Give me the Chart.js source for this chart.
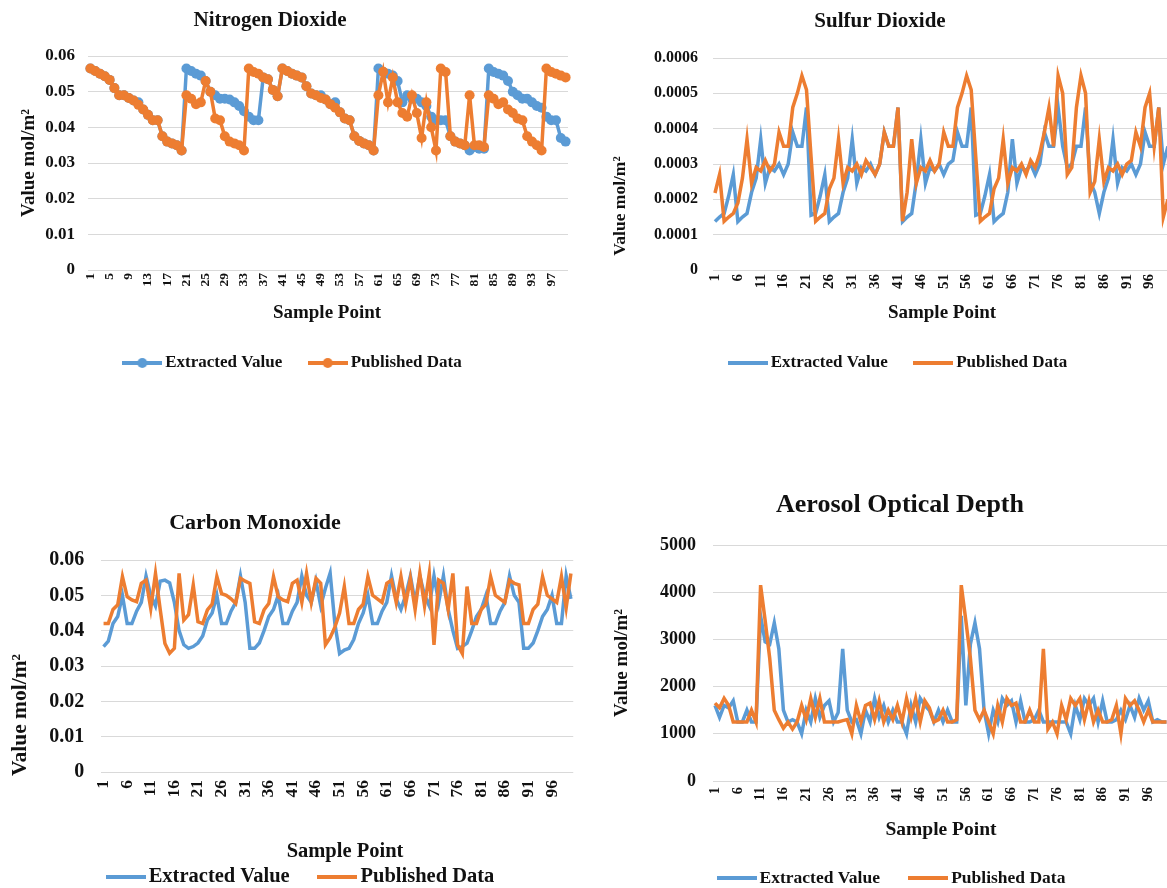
<!DOCTYPE html>
<html>
<head>
<meta charset="utf-8">
<script src="https://cdn.jsdelivr.net/npm/chart.js"></script>
<style>
  html, body { margin: 0; padding: 0; background: #fff; }
  body { position: relative; width: 1167px; height: 888px; overflow: hidden; }
  canvas { position: absolute; }
</style>
</head>
<body>
<canvas id="no2" width="600" height="395" style="left:0;top:0"></canvas>
<canvas id="so2" width="590" height="395" style="left:600px;top:0"></canvas>
<canvas id="co" width="600" height="420" style="left:0;top:480px"></canvas>
<canvas id="aod" width="590" height="420" style="left:600px;top:480px"></canvas>
<script>
// sample points 1..100 (category axis)
const samplePoints = Array.from({length: 100}, (_, i) => String(i + 1));

const no2Extracted = [
  0.0565, 0.0558, 0.055, 0.0543, 0.0533, 0.051, 0.049, 0.049, 0.0482, 0.0475,
  0.047, 0.045, 0.0435, 0.042, 0.042, 0.0375, 0.036, 0.0355, 0.035, 0.0335,
  0.0565, 0.0558, 0.055, 0.0545, 0.053, 0.050, 0.049, 0.048, 0.048, 0.0478,
  0.047, 0.046, 0.0445, 0.043, 0.042, 0.042, 0.054, 0.0535, 0.0505, 0.0487,
  0.0565, 0.0558, 0.055, 0.0545, 0.054, 0.0515, 0.0495, 0.049, 0.049, 0.0478,
  0.0465, 0.047, 0.0442, 0.0425, 0.042, 0.0375, 0.0362, 0.0355, 0.035, 0.0335,
  0.0565, 0.0555, 0.055, 0.0545, 0.053, 0.047, 0.049, 0.048, 0.048, 0.047,
  0.046, 0.043, 0.042, 0.042, 0.042, 0.0375, 0.036, 0.0355, 0.035, 0.0335,
  0.0345, 0.034, 0.034, 0.0565, 0.0555, 0.055, 0.0545, 0.053, 0.050, 0.049,
  0.048, 0.048, 0.047, 0.046, 0.0455, 0.043, 0.042, 0.042, 0.037, 0.036
];
const no2Published = [
  0.0565, 0.0558, 0.055, 0.0543, 0.0533, 0.051, 0.049, 0.049, 0.0482, 0.0475,
  0.0463, 0.045, 0.0435, 0.042, 0.042, 0.0375, 0.036, 0.0355, 0.035, 0.0335,
  0.049, 0.048, 0.0465, 0.047, 0.053, 0.050, 0.0425, 0.042, 0.0375, 0.036,
  0.0355, 0.035, 0.0335, 0.0565, 0.0555, 0.055, 0.054, 0.0535, 0.0505, 0.0487,
  0.0565, 0.0558, 0.055, 0.0545, 0.054, 0.0515, 0.0495, 0.049, 0.0482, 0.0478,
  0.0465, 0.0455, 0.0442, 0.0425, 0.042, 0.0375, 0.0362, 0.0355, 0.035, 0.0335,
  0.049, 0.0556, 0.047, 0.054, 0.047, 0.044, 0.043, 0.049, 0.044, 0.037,
  0.047, 0.040, 0.0335, 0.0565, 0.0555, 0.0375, 0.036, 0.0355, 0.035, 0.049,
  0.035, 0.035, 0.0345, 0.049, 0.048, 0.0465, 0.047, 0.045, 0.044, 0.0425,
  0.042, 0.0375, 0.036, 0.035, 0.0335, 0.0565, 0.0555, 0.055, 0.0545, 0.054
];

const so2Extracted = [
  0.000137, 0.00015, 0.00016, 0.00021, 0.00027, 0.000137, 0.00015, 0.00016, 0.00022, 0.00026,
  0.00037, 0.000245, 0.00029, 0.00028, 0.0003, 0.00027, 0.0003, 0.00039, 0.00035, 0.00035,
  0.00046, 0.000155, 0.00016, 0.00021, 0.00027, 0.000137, 0.00015, 0.00016, 0.00022, 0.00026,
  0.00037, 0.000245, 0.00029, 0.00028, 0.0003, 0.00027, 0.0003, 0.00039, 0.00035, 0.00035,
  0.00046, 0.000137, 0.00015, 0.00016, 0.00025, 0.00037, 0.000245, 0.00029, 0.00028, 0.0003,
  0.00027, 0.0003, 0.00031, 0.00039, 0.00035, 0.00035, 0.00046, 0.000155, 0.00016, 0.00021,
  0.00027, 0.000137, 0.00015, 0.00016, 0.00022, 0.00037, 0.000245, 0.00029, 0.00028, 0.0003,
  0.00027, 0.0003, 0.00039, 0.00035, 0.00035, 0.00046, 0.00035, 0.00029, 0.0003, 0.00035,
  0.00035, 0.00046, 0.00025, 0.00022, 0.00016, 0.00022, 0.00026, 0.00037, 0.000245, 0.00029,
  0.00028, 0.0003, 0.00027, 0.0003, 0.00039, 0.00035, 0.00035, 0.00046, 0.0003, 0.00035
];
const so2Published = [
  0.000218, 0.00027, 0.000138, 0.00015, 0.00016, 0.00019, 0.00026, 0.00037, 0.000245, 0.00029,
  0.00028, 0.00031, 0.00028, 0.0003, 0.00039, 0.00035, 0.00035, 0.00046, 0.0005, 0.00055,
  0.00051, 0.00032, 0.000138, 0.00015, 0.00016, 0.00023, 0.00026, 0.00037, 0.000245, 0.00029,
  0.00028, 0.0003, 0.00027, 0.00031, 0.00029, 0.00027, 0.0003, 0.00039, 0.00035, 0.00035,
  0.00046, 0.000138, 0.00022, 0.00037, 0.000245, 0.00029, 0.00028, 0.00031, 0.00028, 0.0003,
  0.00039, 0.00035, 0.00035, 0.00046, 0.0005, 0.00055, 0.00051, 0.00032, 0.000138, 0.00015,
  0.00016, 0.00023, 0.00026, 0.00037, 0.000245, 0.00029, 0.00028, 0.0003, 0.00027, 0.00031,
  0.00029, 0.00033, 0.00039, 0.00046, 0.00035, 0.00055, 0.0005, 0.00027, 0.00029, 0.00046,
  0.00055, 0.0005, 0.00022, 0.00025, 0.00037, 0.00025, 0.00029, 0.00028, 0.0003, 0.00027,
  0.0003, 0.00031, 0.00039, 0.00035, 0.00046, 0.0005, 0.00035, 0.00046, 0.00015, 0.0002
];

const coExtracted = [
  0.0355, 0.037, 0.042, 0.044, 0.050, 0.042, 0.042, 0.0455, 0.048, 0.0555,
  0.050, 0.047, 0.054, 0.0543, 0.0535, 0.048, 0.040, 0.036, 0.035, 0.0355,
  0.0365, 0.0385, 0.043, 0.045, 0.050, 0.042, 0.042, 0.0455, 0.048, 0.0555,
  0.048, 0.035, 0.035, 0.0365, 0.040, 0.044, 0.046, 0.050, 0.042, 0.042,
  0.0455, 0.048, 0.0555, 0.050, 0.048, 0.054, 0.047, 0.052, 0.0563, 0.042,
  0.0335, 0.0345, 0.035, 0.0375, 0.042, 0.045, 0.050, 0.042, 0.042, 0.0455,
  0.048, 0.0555, 0.049, 0.046, 0.050, 0.0555, 0.048, 0.0555, 0.050, 0.047,
  0.0555, 0.048, 0.0555, 0.046, 0.040, 0.035, 0.0355, 0.0365, 0.040, 0.044,
  0.046, 0.050, 0.042, 0.042, 0.0455, 0.048, 0.0555, 0.050, 0.048, 0.035,
  0.035, 0.0365, 0.040, 0.044, 0.046, 0.050, 0.042, 0.042, 0.0555, 0.049
];
const coPublished = [
  0.042, 0.042, 0.046, 0.0473, 0.0553, 0.0496, 0.0487, 0.0482, 0.0534, 0.0543,
  0.0463, 0.0562, 0.046, 0.0364, 0.0336, 0.035, 0.0562, 0.043, 0.0445, 0.0529,
  0.0425, 0.042, 0.0459, 0.0475, 0.0553, 0.0505, 0.050, 0.049, 0.0477, 0.0548,
  0.054, 0.0534, 0.0425, 0.042, 0.0459, 0.0477, 0.0553, 0.0496, 0.0487, 0.0482,
  0.0534, 0.0543, 0.048, 0.0562, 0.048, 0.0548, 0.0534, 0.036, 0.038, 0.041,
  0.045, 0.0525, 0.042, 0.042, 0.046, 0.0475, 0.0553, 0.050, 0.049, 0.048,
  0.0534, 0.0543, 0.048, 0.0553, 0.0475, 0.0548, 0.046, 0.0562, 0.047, 0.0562,
  0.036, 0.0543, 0.0534, 0.046, 0.0562, 0.036, 0.0335, 0.0525, 0.042, 0.042,
  0.046, 0.0475, 0.0553, 0.050, 0.049, 0.048, 0.0543, 0.0534, 0.053, 0.042,
  0.042, 0.046, 0.0475, 0.0553, 0.050, 0.049, 0.048, 0.0553, 0.0465, 0.0562
];

const aodExtracted = [
  1600, 1350, 1600, 1550, 1700, 1250, 1250, 1500, 1250, 1250,
  3500, 2950, 2900, 3350, 2800, 1500, 1250, 1300, 1250, 1000,
  1500, 1250, 1750, 1350, 1600, 1700, 1250, 1450, 2800, 1500,
  1250, 1300, 1000, 1500, 1250, 1750, 1350, 1600, 1250, 1500,
  1250, 1250, 1000, 1600, 1250, 1750, 1600, 1500, 1250, 1500,
  1250, 1500, 1250, 1250, 3500, 1600, 2900, 3350, 2800, 1500,
  1000, 1500, 1250, 1750, 1600, 1700, 1250, 1700, 1250, 1250,
  1300, 1500, 1250, 1250, 1250, 1250, 1250, 1250, 1000, 1600,
  1300, 1750, 1600, 1750, 1250, 1700, 1250, 1250, 1300, 1500,
  1300, 1600, 1350, 1750, 1500, 1700, 1250, 1300, 1250, 1250
];
const aodPublished = [
  1650, 1550, 1750, 1600, 1250, 1250, 1250, 1250, 1500, 1250,
  4150, 3400, 2600, 1500, 1300, 1120, 1250, 1100, 1250, 1600,
  1300, 1750, 1350, 1750, 1250, 1250, 1250, 1250, 1280, 1300,
  1000, 1600, 1250, 1600, 1650, 1300, 1700, 1250, 1500, 1300,
  1600, 1250, 1750, 1350, 1750, 1250, 1700, 1550, 1250, 1300,
  1500, 1250, 1250, 1300, 4150, 3400, 2600, 1500, 1300, 1500,
  1250, 1000, 1600, 1250, 1750, 1600, 1650, 1250, 1250, 1500,
  1250, 1250, 2800, 1100, 1250, 1000, 1600, 1300, 1750, 1600,
  1750, 1300, 1700, 1250, 1500, 1250, 1250, 1300, 1600, 1000,
  1750, 1600, 1700, 1500, 1250, 1500, 1250, 1250, 1250, 1250
];

const BLUE = '#5B9BD5';
const ORANGE = '#ED7D31';
const GRID = '#D9D9D9';
const TEXT = '#111';
const FONT = "'Liberation Serif', 'Times New Roman', serif";

Chart.defaults.font.family = FONT;
Chart.defaults.font.weight = 'bold';
Chart.defaults.color = TEXT;

// little line (+ dot) picture used as the legend key
function legendIcon(color, withDot) {
  const c = document.createElement('canvas');
  c.width = 40; c.height = 14;
  const g = c.getContext('2d');
  g.strokeStyle = color;
  g.lineWidth = 4;
  g.beginPath(); g.moveTo(0, 7); g.lineTo(40, 7); g.stroke();
  if (withDot) {
    g.fillStyle = color;
    g.beginPath(); g.arc(20, 7, 5, 0, Math.PI * 2); g.fill();
  }
  return c;
}

// titles drawn at fixed spots like in the source figure
function textPlugin(items) {
  return {
    id: 'panelText',
    afterDraw(chart) {
      const ctx = chart.ctx;
      items.forEach(t => {
        ctx.save();
        ctx.font = `bold ${t.size}px ${FONT}`;
        ctx.fillStyle = TEXT;
        ctx.textAlign = 'center';
        ctx.textBaseline = 'middle';
        ctx.translate(t.x, t.y);
        if (t.rotate) ctx.rotate(-Math.PI / 2);
        ctx.fillText(t.text, 0, 0);
        ctx.restore();
      });
    }
  };
}

function makePanel(p) {
  const canvas = document.getElementById(p.id);
  const fs = p.legendFont;
  const lp = p.legendGap;
  const legendTop = p.legendY - lp - fs / 2;
  const legendBottom = p.legendY + fs / 2 + 10;
  const pl = 2 * (p.legendX + (fs / 2 - 3) / 2) - p.area.right;
  const icons = [legendIcon(BLUE, p.dots), legendIcon(ORANGE, p.dots)];

  new Chart(canvas, {
    type: 'line',
    data: {
      labels: samplePoints,
      datasets: [
        { label: 'Extracted Value', data: p.extracted, borderColor: BLUE, backgroundColor: BLUE, order: 1 },
        { label: 'Published Data', data: p.published, borderColor: ORANGE, backgroundColor: ORANGE, order: 0 }
      ]
    },
    options: {
      responsive: false,
      animation: false,
      devicePixelRatio: 1,
      layout: {
        padding: { left: pl, right: canvas.width - p.area.right, top: p.area.top, bottom: canvas.height - legendBottom }
      },
      elements: {
        line: { borderWidth: p.lineWidth, tension: 0 },
        point: { radius: p.dots ? 5 : 0, borderWidth: 0, hoverRadius: 0 }
      },
      plugins: {
        legend: {
          position: 'bottom',
          labels: {
            usePointStyle: true,
            pointStyleWidth: 46 - fs,
            padding: lp,
            font: { size: fs, weight: 'bold' },
            color: TEXT,
            generateLabels(chart) {
              const items = Chart.defaults.plugins.legend.labels.generateLabels(chart);
              items.sort((a, b) => a.datasetIndex - b.datasetIndex);
              items.forEach(it => { it.pointStyle = icons[it.datasetIndex]; });
              return items;
            }
          }
        },
        tooltip: { enabled: false }
      },
      scales: {
        x: {
          offset: true,
          grid: { display: false, drawTicks: false },
          border: { display: false },
          ticks: {
            autoSkip: false,
            minRotation: 90,
            maxRotation: 90,
            padding: p.xTickPad,
            font: { size: p.xTickFont, weight: 'bold' },
            color: TEXT,
            callback(v, i) { return i % p.labelStep === 0 ? this.getLabelForValue(v) : ''; }
          },
          afterFit(scale) { scale.height = legendTop - p.area.bottom; }
        },
        y: {
          min: 0,
          max: p.yMax,
          grid: { color: GRID, lineWidth: 1, drawTicks: false },
          border: { display: false },
          ticks: {
            stepSize: p.yStep,
            padding: p.yTickPad,
            font: { size: p.yTickFont, weight: 'bold' },
            color: TEXT,
            callback: p.yFormat
          },
          afterFit(scale) { scale.width = p.area.left - pl; }
        }
      }
    },
    plugins: [textPlugin(p.texts)]
  });
}

makePanel({
  id: 'no2', extracted: no2Extracted, published: no2Published, dots: true, lineWidth: 3.5,
  area: { left: 88, right: 568, top: 56, bottom: 270 },
  yMax: 0.06, yStep: 0.01, yFormat: v => v === 0 ? '0' : v.toFixed(2),
  yTickFont: 17, yTickPad: 13, xTickFont: 13.5, xTickPad: 3, labelStep: 4,
  legendFont: 17, legendGap: 31, legendX: 292, legendY: 363,
  texts: [
    { text: 'Nitrogen Dioxide', x: 270, y: 21, size: 21 },
    { text: 'Value mol/m²', x: 29.5, y: 163, size: 19, rotate: true },
    { text: 'Sample Point', x: 327, y: 313, size: 19 }
  ]
});

makePanel({
  id: 'so2', extracted: so2Extracted, published: so2Published, dots: false, lineWidth: 3.5,
  area: { left: 112.7, right: 573.7, top: 58, bottom: 270 },
  yMax: 0.0006, yStep: 0.0001, yFormat: v => v === 0 ? '0' : v.toFixed(4),
  yTickFont: 16, yTickPad: 14.7, xTickFont: 15, xTickPad: 4, labelStep: 5,
  legendFont: 17, legendGap: 31, legendX: 297.5, legendY: 363,
  texts: [
    { text: 'Sulfur Dioxide', x: 280, y: 22, size: 21 },
    { text: 'Value mol/m²', x: 20, y: 206, size: 17.5, rotate: true },
    { text: 'Sample Point', x: 342, y: 313, size: 19 }
  ]
});

makePanel({
  id: 'co', extracted: coExtracted, published: coPublished, dots: false, lineWidth: 3.5,
  area: { left: 101.2, right: 578.2, top: 80, bottom: 292 },
  yMax: 0.06, yStep: 0.01, yFormat: v => v === 0 ? '0' : v.toFixed(2),
  yTickFont: 20, yTickPad: 17, xTickFont: 17.5, xTickPad: 8, labelStep: 5,
  legendFont: 20.5, legendGap: 35, legendX: 300, legendY: 397,
  texts: [
    { text: 'Carbon Monoxide', x: 255, y: 43, size: 22 },
    { text: 'Value mol/m²', x: 20, y: 235, size: 21.5, rotate: true },
    { text: 'Sample Point', x: 345, y: 372, size: 20.5 }
  ]
});

makePanel({
  id: 'aod', extracted: aodExtracted, published: aodPublished, dots: false, lineWidth: 3.5,
  area: { left: 112.7, right: 573.7, top: 65, bottom: 301 },
  yMax: 5000, yStep: 1000, yFormat: v => String(v),
  yTickFont: 18, yTickPad: 16.7, xTickFont: 14.5, xTickPad: 6, labelStep: 5,
  legendFont: 17.5, legendGap: 34, legendX: 291, legendY: 398,
  texts: [
    { text: 'Aerosol Optical Depth', x: 300, y: 25, size: 26 },
    { text: 'Value mol/m²', x: 22, y: 183, size: 19, rotate: true },
    { text: 'Sample Point', x: 341, y: 350, size: 19.5 }
  ]
});
</script>
</body>
</html>
